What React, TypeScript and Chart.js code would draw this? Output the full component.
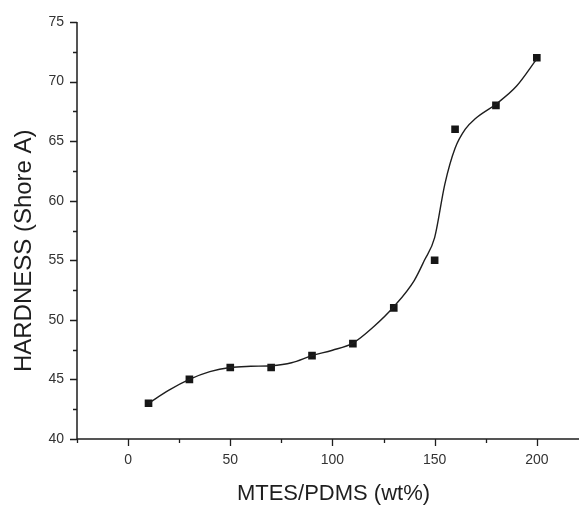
import React, { useEffect, useRef } from "react";
import { Chart, registerables } from "chart.js";

Chart.register(...registerables);

// Measured hardness for each MTES/PDMS ratio
const ratios = [10, 30, 50, 70, 90, 110, 130, 150, 160, 180, 200];
const hardness = [43, 45, 46, 46, 47, 48, 51, 55, 66, 68, 72];

// Smoothed trend curve (fitted values along the ratio axis)
const fitRatios = [10, 20, 30, 40, 50, 60, 70, 80, 90, 100, 110, 120, 130, 140, 145, 150, 155, 160, 165, 170, 180, 190, 200];
const fitHardness = [43, 44.1, 45, 45.65, 46, 46.1, 46.15, 46.4, 47, 47.45, 48.05, 49.4, 51.1, 53.3, 55.0, 56.9, 61.4, 64.4, 66.0, 66.9, 68.1, 69.6, 71.9];

const xTickValues = [0, 50, 100, 150, 200];
const yTickValues = [40, 45, 50, 55, 60, 65, 70, 75];

const X_TITLE = "MTES/PDMS (wt%)";
const Y_TITLE = "HARDNESS (Shore A)";

const X_MIN = -25;
const X_MAX = 218;
const Y_MIN = 40;
const Y_MAX = 75;

const FONT = '"Liberation Sans", Arial, Helvetica, sans-serif';
const INK = "#1e1e1e";

// Draws the two axis lines with long major and short minor tick marks,
// plus the axis titles; the bottom axis line runs on to the canvas edge
const axisFrame = {
  id: "axisFrame",
  afterDraw(chart: any) {
    const { ctx, chartArea } = chart;
    const xs = chart.scales.x;
    const ys = chart.scales.y;
    ctx.save();
    ctx.strokeStyle = INK;
    ctx.lineWidth = 1.5;
    ctx.beginPath();
    ctx.moveTo(chartArea.left, chartArea.top);
    ctx.lineTo(chartArea.left, chartArea.bottom);
    ctx.lineTo(chart.width, chartArea.bottom);
    ctx.stroke();

    ctx.lineWidth = 1.3;
    ctx.beginPath();
    for (let v = -25; v <= 225; v += 25) {
      const px = Math.round(xs.getPixelForValue(v)) + 0.5;
      if (px > chart.width) continue;
      const len = v % 50 === 0 ? 7 : 4;
      ctx.moveTo(px, chartArea.bottom);
      ctx.lineTo(px, chartArea.bottom + len);
    }
    for (let v = Y_MIN; v <= Y_MAX + 0.01; v += 2.5) {
      const py = Math.round(ys.getPixelForValue(v)) + 0.5;
      const len = v % 5 === 0 ? 7 : 4;
      ctx.moveTo(chartArea.left, py);
      ctx.lineTo(chartArea.left - len, py);
    }
    ctx.stroke();

    ctx.fillStyle = INK;
    ctx.textAlign = "center";
    ctx.textBaseline = "middle";
    ctx.font = `22px ${FONT}`;
    ctx.fillText(X_TITLE, xs.getPixelForValue(100.5), 494);

    ctx.translate(24, ys.getPixelForValue(55.8));
    ctx.rotate(-Math.PI / 2);
    ctx.font = `24px ${FONT}`;
    ctx.fillText(Y_TITLE, 0, 0);
    ctx.restore();
  },
};

export default function App() {
  const canvasRef = useRef<HTMLCanvasElement | null>(null);

  useEffect(() => {
    const canvas = canvasRef.current;
    if (!canvas) return;
    const chart = new Chart(canvas, {
      type: "scatter",
      data: {
        datasets: [
          {
            type: "line",
            data: fitRatios.map((x, i) => ({ x, y: fitHardness[i] })),
            borderColor: INK,
            borderWidth: 1.4,
            pointRadius: 0,
            cubicInterpolationMode: "monotone",
            fill: false,
          },
          {
            type: "scatter",
            data: ratios.map((x, i) => ({ x, y: hardness[i] })),
            pointStyle: "rect",
            pointRadius: 5.4,
            backgroundColor: "#161616",
            borderColor: "#161616",
            borderWidth: 0,
          },
        ],
      },
      options: {
        responsive: false,
        animation: false,
        layout: { padding: { top: 22, right: 0, left: 0, bottom: 0 } },
        plugins: {
          legend: { display: false },
          tooltip: { enabled: false },
        },
        scales: {
          x: {
            type: "linear",
            min: X_MIN,
            max: X_MAX,
            afterBuildTicks: (s: any) => {
              s.ticks = xTickValues.map((value) => ({ value }));
            },
            afterFit: (s: any) => {
              s.height = 66;
            },
            grid: { display: false, drawTicks: false },
            border: { display: false },
            ticks: {
              padding: 13,
              color: "#333",
              font: { family: FONT, size: 14 },
              maxRotation: 0,
            },
            title: { display: false },
          },
          y: {
            type: "linear",
            min: Y_MIN,
            max: Y_MAX,
            afterBuildTicks: (s: any) => {
              s.ticks = yTickValues.map((value) => ({ value }));
            },
            afterFit: (s: any) => {
              s.width = 77;
            },
            grid: { display: false, drawTicks: false },
            border: { display: false },
            ticks: {
              padding: 13,
              color: "#333",
              font: { family: FONT, size: 14 },
            },
            title: { display: false },
          },
        },
      },
      plugins: [axisFrame],
    });
    return () => chart.destroy();
  }, []);

  return (
    <div style={{ position: "absolute", left: 0, top: 0, width: 579, height: 505, background: "#fff" }}>
      <canvas ref={canvasRef} width={579} height={505} style={{ display: "block" }} />
    </div>
  );
}
